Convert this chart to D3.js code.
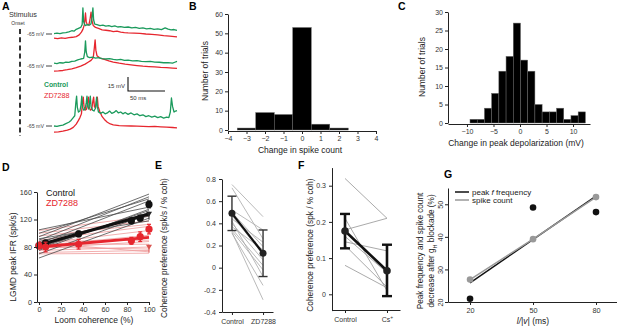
<!DOCTYPE html>
<html><head><meta charset="utf-8">
<script src="https://cdn.jsdelivr.net/npm/d3@7"></script>
<style>
body{margin:0;background:#fff;}
svg{display:block;font-family:"Liberation Sans",Arial,Helvetica,sans-serif;}
</style></head><body><svg id="c" width="617" height="330"></svg>
<script>
// ---------- DATA ----------
// Panel A: membrane potential traces [time ms, mV]
const trace1Control = [[0,-64.5],[4,-64],[8,-64.6],[12,-63.8],[16,-63.5],[20,-62.8],[24,-61.5],[27,-62],[30,-60],[33,-59],[36,-58],[38,-55],[39,-37],[40,-52],[42,-56],[45,-55],[48,-55.5],[50,-54],[51.5,-46],[52.5,-37],[53.5,-50],[55,-54.5],[58,-55],[62,-56],[66,-55.5],[70,-56.5],[74,-56],[78,-57],[82,-56.2],[86,-57.5],[90,-57],[95,-58],[100,-57.5],[105,-58.5],[110,-58],[115,-59],[120,-58.5],[125,-59.5],[130,-59],[135,-60],[140,-59.5],[145,-60.3],[150,-58.5],[154,-59.8],[158,-60.5],[162,-60.2],[166,-61]];
const trace1ZD = [[0,-69.5],[5,-70],[10,-69.2],[15,-69.6],[20,-68.8],[25,-68.5],[30,-67.8],[34,-66],[37,-63],[39,-60],[41,-55],[42.5,-42.5],[43.5,-52],[45,-55],[47,-55.5],[48.5,-50],[50,-41.5],[51,-50],[53,-56],[56,-58],[60,-59],[65,-60.5],[70,-61],[75,-61.5],[80,-62.5],[85,-62],[90,-63],[95,-63.5],[100,-63.8],[108,-64],[116,-64.3],[124,-65],[132,-65.5],[140,-66],[148,-66.8],[156,-67.2],[166,-68]];
const trace2Control = [[0,-62],[4,-62.5],[8,-61.5],[12,-61.8],[16,-60.8],[20,-61.2],[24,-60],[28,-59.8],[32,-58.5],[36,-57.5],[40,-56.8],[41.5,-50],[42.5,-38],[43.5,-50],[45,-55],[48,-56],[52,-55.5],[56,-56.5],[60,-56],[65,-57],[70,-57.5],[75,-57],[80,-58],[85,-58.5],[90,-58],[95,-59],[100,-58.7],[106,-59.5],[112,-59.2],[118,-60],[124,-60.3],[130,-60],[136,-60.8],[142,-61],[148,-61.5],[154,-61.3],[160,-62],[163,-61],[166,-60]];
const trace2ZD = [[0,-70.5],[6,-70.3],[12,-69.8],[18,-69],[24,-68],[30,-66.8],[36,-65.2],[42,-63],[46,-61],[50,-59],[53,-56],[54.5,-45],[55.5,-37],[56.5,-48],[58,-54],[62,-56.5],[68,-58],[74,-59.5],[80,-60.8],[88,-62],[96,-63],[104,-63.8],[112,-64.5],[120,-65.2],[128,-65.6],[136,-66],[144,-66.5],[152,-66.8],[160,-67.2],[166,-67.5]];
const trace3Control = [[0,-65],[4,-65.5],[8,-64.5],[12,-64],[16,-62.5],[20,-61],[23,-59],[26,-56],[28,-54],[29.5,-40],[30.5,-33],[31.5,-45],[33,-50],[35,-49],[36.5,-42],[37.5,-33],[38.5,-45],[40,-48],[42,-47],[43.5,-40],[44.5,-33],[45.5,-44],[47,-47],[48,-40],[49,-33],[50,-44],[52,-48],[54,-49],[56,-46],[57.5,-34],[58.5,-44],[60,-50],[63,-51.5],[66,-50],[69,-52],[72,-51],[75,-49],[78,-51.5],[81,-50.5],[84,-48.5],[87,-51],[90,-50],[93,-52],[96,-50.5],[100,-52.5],[104,-51],[108,-53],[112,-52],[116,-54],[120,-53],[124,-55],[128,-54],[132,-55.5],[136,-54.5],[140,-56],[144,-55],[148,-56.5],[152,-55.5],[155,-56],[157,-50],[158.5,-35],[160,-44],[162,-50],[164,-49],[166,-48.5]];
const trace3ZD = [[0,-71.5],[6,-71.2],[12,-70.5],[18,-69.5],[22,-68.3],[26,-66.5],[30,-63],[33,-59],[35,-56],[37,-52],[38.5,-40],[39.5,-34],[40.5,-44],[42,-48],[44,-47],[45.5,-38],[46.5,-34],[47.5,-44],[49,-48],[51,-47],[52.5,-38],[53.5,-34],[54.5,-44],[56,-46],[57.5,-38],[58.5,-34],[59.5,-44],[62,-50],[65,-55],[68,-58],[72,-61],[76,-62.8],[80,-63.8],[88,-64.5],[96,-64.8],[104,-65],[112,-65.2],[120,-65.4],[128,-65.6],[136,-65.5],[144,-65.9],[152,-66.3],[160,-66.6],[166,-67]];

// Panel B
const spikeChangeBins = [-3,-2,-1,0,1,2];
const spikeChangeCounts = [1,9,8,53,3,1];
const bXTicks = [-4,-3,-2,-1,0,1,2,3,4];
const bYTicks = [0,10,20,30,40,50,60];

// Panel C
const depolBinStart = -9.43, depolBinWidth = 1.36;
const depolCounts = [1,1,4,8,14,18,27,17,14,5,3,3,4,1,2,3];
const cXTicks = [-10,-5,0,5,10];
const cYTicks = [0,5,10,15,20,25,30];

// Panel D
const dLineStartControl = [95,90,100,85,105,75,80,70,88,64,92,78];
const dLineEndControl   = [157,153,150,147,138,135,130,128,125,122,118,133];
const dLineStartZD = [104,100,96,90,85,82,88,78,84,75,80,72,86,70];
const dLineEndZD   = [125,118,113,110,104,97,90,88,84,80,77,75,73,71];
const coherence = [0,6,36,84,92,100];
const controlIFR = [82,86,99,118,122,142];
const controlErr = [3,3,4,4,4,5];
const zdIFR = [82,80,84,89,95,106];
const zdErr = [5,7,7,5,7,7];
const controlFit = [83,128];
const zdFit = [80,94];
const dArrowControl = 127, dArrowZD = 79;
const dXTicks = [0,20,40,60,80,100];
const dYTicks = [0,40,80,120,160];

// Panel E
const eCats = ["Control","ZD7288"];
const eControl = [0.75,0.72,0.52,0.50,0.47,0.44,0.40,0.37,0.35,0.33,0.31,0.32,0.42];
const eZD      = [0.46,0.26,0.34,0.19,0.12,0.23,0.07,0.16,0.02,-0.02,-0.16,-0.29,-0.08];
const eMean = [0.49,0.13];
const eLow = [0.335,-0.08];
const eHigh = [0.645,0.34];
const eYTicks = [-0.4,-0.2,0,0.2,0.4,0.6,0.8];

// Panel F
const fCats = ["Control","Cs"];
const fControl = [0.32,0.178,0.21,0.145,0.135,0.08,0.16];
const fCs      = [0.21,0.21,0.01,0.12,0.02,0.018,0.06];
const fMean = [0.175,0.065];
const fLow = [0.127,-0.005];
const fHigh = [0.222,0.137];
const fYTicks = [0,0.1,0.2,0.3];

// Panel G
const lv = [20,50,80];
const peakFreqDecrease = [21,49,47.6];
const spikeCountDecrease = [26.9,39.3,52.2];
const gXTicks = [20,50,80];
const gYTicks = [20,30,40,50];

// ---------- DRAW ----------
const svg = d3.select("#c");
svg.append("rect").attr("width",617).attr("height",330).attr("fill","#fff");
const FONT = '"Liberation Sans",Arial,Helvetica,sans-serif';
const GREEN = "#1b9a5c", RED = "#e6262e";

function styleAxis(g, fs){
  g.attr("font-family", FONT);
  g.select(".domain").attr("stroke","#222").attr("stroke-width",1);
  g.selectAll(".tick line").attr("stroke","#222");
  g.selectAll(".tick text").attr("fill","#333").style("font-size", fs+"px");
  return g;
}
function label(x,y,txt,opts={}){
  const t = svg.append("text").attr("x",x).attr("y",y).text(txt)
    .attr("font-family",FONT).style("font-size",(opts.size||8.5)+"px")
    .attr("fill",opts.fill||"#222").attr("text-anchor",opts.anchor||"middle");
  if(opts.weight) t.attr("font-weight",opts.weight);
  if(opts.rotate) t.attr("transform",`rotate(-90,${x},${y})`);
  return t;
}
const panel = (x,y,t)=>label(x,y,t,{size:10.5,weight:"bold",anchor:"start",fill:"#000"});

// ===== Panel A =====
panel(2,10,"A");
label(9,16.5,"Stimulus",{size:7.3,anchor:"start",fill:"#333"});
label(18,24.5,"Onset",{size:5,fill:"#333"});
svg.append("line").attr("x1",20).attr("x2",20).attr("y1",29).attr("y2",136)
  .attr("stroke","#333").attr("stroke-width",2).attr("stroke-dasharray","5,3.2");
const xA = d3.scaleLinear().domain([0,166]).range([54,177]);
const rowBase = [34,66,126];
const traces = [[trace1Control,trace1ZD],[trace2Control,trace2ZD],[trace3Control,trace3ZD]];
traces.forEach((pair,i)=>{
  const yA = d3.scaleLinear().domain([-65,-35]).range([rowBase[i], rowBase[i]-28]);
  const line = d3.line().x(d=>xA(d[0])).y(d=>yA(d[1]));
  label(44,yA(-65)+1.8,"-65 mV",{size:5.3,anchor:"end",fill:"#444"});
  svg.append("line").attr("x1",46).attr("x2",52).attr("y1",yA(-65)).attr("y2",yA(-65)).attr("stroke","#444").attr("stroke-width",1);
  svg.append("path").attr("d",line(pair[1])).attr("fill","none").attr("stroke",RED).attr("stroke-width",1.3).attr("stroke-linejoin","round");
  svg.append("path").attr("d",line(pair[0])).attr("fill","none").attr("stroke",GREEN).attr("stroke-width",1.3).attr("stroke-linejoin","round");
});
// scale bar (15 mV, 50 ms)
{
  const ySB = d3.scaleLinear().domain([0,15]).range([91,77]);
  const x0 = 128;
  svg.append("path").attr("d",`M${x0},${ySB(15)}V${ySB(0)}H${x0 + xA(50)-xA(0)}`)
    .attr("fill","none").attr("stroke","#111").attr("stroke-width",1.1);
  label(125,88,"15 mV",{size:6,anchor:"end",fill:"#333"});
  label(130,100,"50 ms",{size:6,anchor:"start",fill:"#333"});
}
label(44,87,"Control",{size:6.8,anchor:"start",fill:GREEN,weight:"bold"});
label(44,97.5,"ZD7288",{size:7.2,anchor:"start",fill:RED});

// ===== Panel B =====
panel(189,10,"B");
{
  const x = d3.scaleLinear().domain([-4,4]).range([228,376]);
  const y = d3.scaleLinear().domain([0,60]).range([130,14]);
  svg.append("g").selectAll("rect").data(spikeChangeBins).join("rect")
    .attr("x",(d)=>x(d-0.5)).attr("width",x(1)-x(0))
    .attr("y",(d,i)=>y(spikeChangeCounts[i])).attr("height",(d,i)=>y(0)-y(spikeChangeCounts[i]))
    .attr("fill","#000").attr("stroke","#666").attr("stroke-width",0.5);
  styleAxis(svg.append("g").attr("transform","translate(0,131)")
    .call(d3.axisBottom(x).tickValues(bXTicks).tickSize(3).tickSizeOuter(0).tickPadding(2)),7);
  styleAxis(svg.append("g").attr("transform","translate(228,0)")
    .call(d3.axisLeft(y).tickValues(bYTicks).tickSize(3).tickSizeOuter(0).tickPadding(2)),7);
  label(300,153,"Change in spike count",{size:8.5});
  label(208,71,"Number of trials",{size:8.5,rotate:true});
}

// ===== Panel C =====
panel(398,10,"C");
{
  const x = d3.scaleLinear().domain([-13.58,13.2]).range([448,590]);
  const y = d3.scaleLinear().domain([0,30]).range([123,12]);
  svg.append("g").selectAll("rect").data(depolCounts).join("rect")
    .attr("x",(d,i)=>x(depolBinStart+i*depolBinWidth)).attr("width",x(depolBinWidth)-x(0))
    .attr("y",d=>y(d)).attr("height",d=>y(0)-y(d))
    .attr("fill","#000").attr("stroke","#666").attr("stroke-width",0.5);
  styleAxis(svg.append("g").attr("transform","translate(0,124)")
    .call(d3.axisBottom(x).tickValues(cXTicks).tickSize(3).tickSizeOuter(0).tickPadding(2)),7);
  styleAxis(svg.append("g").attr("transform","translate(448,0)")
    .call(d3.axisLeft(y).tickValues(cYTicks).tickSize(3).tickSizeOuter(0).tickPadding(2)),7);
  label(516,146,"Change in peak depolarization (mV)",{size:8.5});
  label(425,67,"Number of trials",{size:8.5,rotate:true});
}

// ===== Panel D =====
panel(2,171,"D");
{
  const x = d3.scaleLinear().domain([-1.8,100]).range([37,149]);
  const y = d3.scaleLinear().domain([0,160]).range([302,192]);
  const g = svg.append("g");
  dLineStartZD.forEach((s,i)=>{
    g.append("line").attr("x1",x(0)).attr("x2",x(100)).attr("y1",y(s)).attr("y2",y(dLineEndZD[i]))
      .attr("stroke","#ef9a9a").attr("stroke-width",0.8);
  });
  dLineStartControl.forEach((s,i)=>{
    g.append("line").attr("x1",x(0)).attr("x2",x(100)).attr("y1",y(s)).attr("y2",y(dLineEndControl[i]))
      .attr("stroke","#4a4a4a").attr("stroke-width",0.8);
  });
  g.append("line").attr("x1",x(0)).attr("x2",x(100)).attr("y1",y(controlFit[0])).attr("y2",y(controlFit[1]))
    .attr("stroke","#111").attr("stroke-width",3);
  g.append("line").attr("x1",x(0)).attr("x2",x(100)).attr("y1",y(zdFit[0])).attr("y2",y(zdFit[1]))
    .attr("stroke",RED).attr("stroke-width",3);
  [[dArrowControl,"#222"],[dArrowZD,"#d9534f"]].forEach(([v,c])=>{
    g.append("path").attr("d",`M${x(100)-3},${y(v)-3}L${x(100)+3},${y(v)-3}L${x(100)},${y(v)+2}Z`).attr("fill",c);
    g.append("line").attr("x1",x(100)).attr("x2",x(100)).attr("y1",y(v)-3).attr("y2",y(v)+5).attr("stroke",c).attr("stroke-width",1);
  });
  const pts = (vals,errs,col)=>{
    vals.forEach((v,i)=>{
      g.append("line").attr("x1",x(coherence[i])).attr("x2",x(coherence[i])).attr("y1",y(v-errs[i])).attr("y2",y(v+errs[i])).attr("stroke",col).attr("stroke-width",1.4);
      [v-errs[i],v+errs[i]].forEach(e=>g.append("line").attr("x1",x(coherence[i])-2).attr("x2",x(coherence[i])+2).attr("y1",y(e)).attr("y2",y(e)).attr("stroke",col).attr("stroke-width",1.2));
      g.append("circle").attr("cx",x(coherence[i])).attr("cy",y(v)).attr("r",3.6).attr("fill",col);
    });
  };
  pts(controlIFR,controlErr,"#111");
  pts(zdIFR,zdErr,RED);
  styleAxis(svg.append("g").attr("transform","translate(0,302)")
    .call(d3.axisBottom(x).tickValues(dXTicks).tickSize(3).tickSizeOuter(0).tickPadding(2)),7.3);
  styleAxis(svg.append("g").attr("transform","translate(37,0)")
    .call(d3.axisLeft(y).tickValues(dYTicks).tickSize(3).tickSizeOuter(0).tickPadding(2)),7.3);
  label(94,323,"Loom coherence (%)",{size:8.5});
  label(15.5,257,"LGMD peak IFR (spk/s)",{size:8.5,rotate:true});
  label(46,196,"Control",{size:9,anchor:"start",fill:"#111"});
  label(46,206,"ZD7288",{size:9,anchor:"start",fill:RED});
}

// ===== Panel E =====
panel(155,169,"E");
{
  const x = d3.scalePoint().domain(eCats).range([222,273]).padding(0.32);
  const y = d3.scaleLinear().domain([-0.4,0.8]).range([312,179]);
  const g = svg.append("g");
  eControl.forEach((v,i)=>g.append("line").attr("x1",x("Control")).attr("x2",x("ZD7288")).attr("y1",y(v)).attr("y2",y(eZD[i])).attr("stroke","#a8a8a8").attr("stroke-width",0.8));
  eCats.forEach((c,i)=>{
    g.append("line").attr("x1",x(c)).attr("x2",x(c)).attr("y1",y(eLow[i])).attr("y2",y(eHigh[i])).attr("stroke","#333").attr("stroke-width",1.4);
    [eLow[i],eHigh[i]].forEach(e=>g.append("line").attr("x1",x(c)-4.5).attr("x2",x(c)+4.5).attr("y1",y(e)).attr("y2",y(e)).attr("stroke","#333").attr("stroke-width",1.4));
  });
  g.append("line").attr("x1",x("Control")).attr("x2",x("ZD7288")).attr("y1",y(eMean[0])).attr("y2",y(eMean[1])).attr("stroke","#111").attr("stroke-width",2.2);
  eCats.forEach((c,i)=>g.append("circle").attr("cx",x(c)).attr("cy",y(eMean[i])).attr("r",3.5).attr("fill","#222"));
  styleAxis(svg.append("g").attr("transform","translate(0,312)")
    .call(d3.axisBottom(x).tickSize(3).tickSizeOuter(0).tickPadding(4)),7);
  styleAxis(svg.append("g").attr("transform","translate(222,0)")
    .call(d3.axisLeft(y).tickValues(eYTicks).tickSize(3).tickSizeOuter(0).tickPadding(3)
      .tickFormat(d=>d===0?"0":(d<0?"-":"")+Math.abs(d).toFixed(1))),7);
  label(167,248,"Coherence preference (spk/s / % coh)",{size:8.3,rotate:true});
}

// ===== Panel F =====
panel(298,169,"F");
{
  const x = d3.scalePoint().domain(fCats).range([332,400]).padding(0.31);
  const y = d3.scaleLinear().domain([-0.045,0.35]).range([310.6,167.6]);
  const g = svg.append("g");
  fControl.forEach((v,i)=>g.append("line").attr("x1",x("Control")).attr("x2",x("Cs")).attr("y1",y(v)).attr("y2",y(fCs[i])).attr("stroke","#a0a0a0").attr("stroke-width",0.9));
  g.append("line").attr("x1",x("Control")).attr("x2",x("Cs")).attr("y1",y(fMean[0])).attr("y2",y(fMean[1])).attr("stroke","#111").attr("stroke-width",2.6);
  fCats.forEach((c,i)=>{
    g.append("line").attr("x1",x(c)).attr("x2",x(c)).attr("y1",y(fLow[i])).attr("y2",y(fHigh[i])).attr("stroke","#111").attr("stroke-width",2.6);
    [fLow[i],fHigh[i]].forEach(e=>g.append("line").attr("x1",x(c)-5).attr("x2",x(c)+5).attr("y1",y(e)).attr("y2",y(e)).attr("stroke","#111").attr("stroke-width",2.4));
    g.append("circle").attr("cx",x(c)).attr("cy",y(fMean[i])).attr("r",3.8).attr("fill","#222");
  });
  const ax = styleAxis(svg.append("g").attr("transform","translate(0,310)")
    .call(d3.axisBottom(x).tickSize(3).tickSizeOuter(0).tickPadding(4)),7);
  ax.selectAll(".tick text").filter(d=>d==="Cs").each(function(){
    d3.select(this).append("tspan").attr("dy",-2.5).style("font-size","5px").text("+");
  });
  styleAxis(svg.append("g").attr("transform","translate(332,0)")
    .call(d3.axisLeft(y).tickValues(fYTicks).tickSize(3).tickSizeOuter(0).tickPadding(3)
      .tickFormat(d=>d===0?"0":d.toFixed(1))),7);
  label(312.5,245,"Coherence preference (spk / % coh)",{size:8.3,rotate:true});
}

// ===== Panel G =====
panel(444,178,"G");
{
  const x = d3.scaleLinear().domain([9.5,90]).range([448,617]);
  const y = d3.scaleLinear().domain([20,55]).range([302,188]);
  const g = svg.append("g");
  const mx = d3.mean(lv), my = d3.mean(peakFreqDecrease);
  const slope = d3.sum(lv,(d,i)=>(d-mx)*(peakFreqDecrease[i]-my))/d3.sum(lv,d=>(d-mx)*(d-mx));
  const fitY = d=>my+slope*(d-mx);
  g.append("line").attr("x1",x(20)).attr("x2",x(80)).attr("y1",y(fitY(20))).attr("y2",y(fitY(80))).attr("stroke","#111").attr("stroke-width",1.5);
  g.append("path").attr("d",d3.line().x((d,i)=>x(lv[i])).y(d=>y(d))(spikeCountDecrease)).attr("fill","none").attr("stroke","#999").attr("stroke-width",1.5);
  spikeCountDecrease.forEach((v,i)=>g.append("circle").attr("cx",x(lv[i])).attr("cy",y(v)).attr("r",3.3).attr("fill","#999"));
  peakFreqDecrease.forEach((v,i)=>g.append("circle").attr("cx",x(lv[i])).attr("cy",y(v)).attr("r",3.3).attr("fill","#111"));
  styleAxis(svg.append("g").attr("transform","translate(0,302)")
    .call(d3.axisBottom(x).tickValues(gXTicks).tickSize(3).tickSizeOuter(0).tickPadding(3)),7.3);
  const ay = styleAxis(svg.append("g").attr("transform","translate(448,0)")
    .call(d3.axisLeft(y).tickValues(gYTicks).tickSize(3).tickSizeOuter(0).tickPadding(3)),7.3);
  ay.selectAll(".tick text").attr("text-anchor","middle").attr("dy",null).attr("x",-5)
    .attr("y",0).attr("transform","rotate(-90,-5,0)");
  // legend
  svg.append("line").attr("x1",455).attr("x2",469).attr("y1",192).attr("y2",192).attr("stroke","#111").attr("stroke-width",1.5);
  svg.append("line").attr("x1",455).attr("x2",469).attr("y1",200).attr("y2",200).attr("stroke","#999").attr("stroke-width",1.5);
  const l1 = label(472,195,"peak ",{size:8,anchor:"start"});
  l1.append("tspan").attr("font-style","italic").text("f");
  l1.append("tspan").text(" frequency");
  label(472,203,"spike count",{size:8,anchor:"start"});
  const xl = label(533,324,"",{size:8.5});
  xl.append("tspan").attr("font-style","italic").text("l/|v|");
  xl.append("tspan").text(" (ms)");
  label(423,251,"Peak frequency and spike count",{size:8.2,rotate:true});
  const yl2 = label(433.5,251,"decrease after g",{size:8.2,rotate:true});
  yl2.append("tspan").attr("baseline-shift","sub").style("font-size","5.5px").text("H");
  yl2.append("tspan").text(" blockade (%)");
}
</script></body></html>
